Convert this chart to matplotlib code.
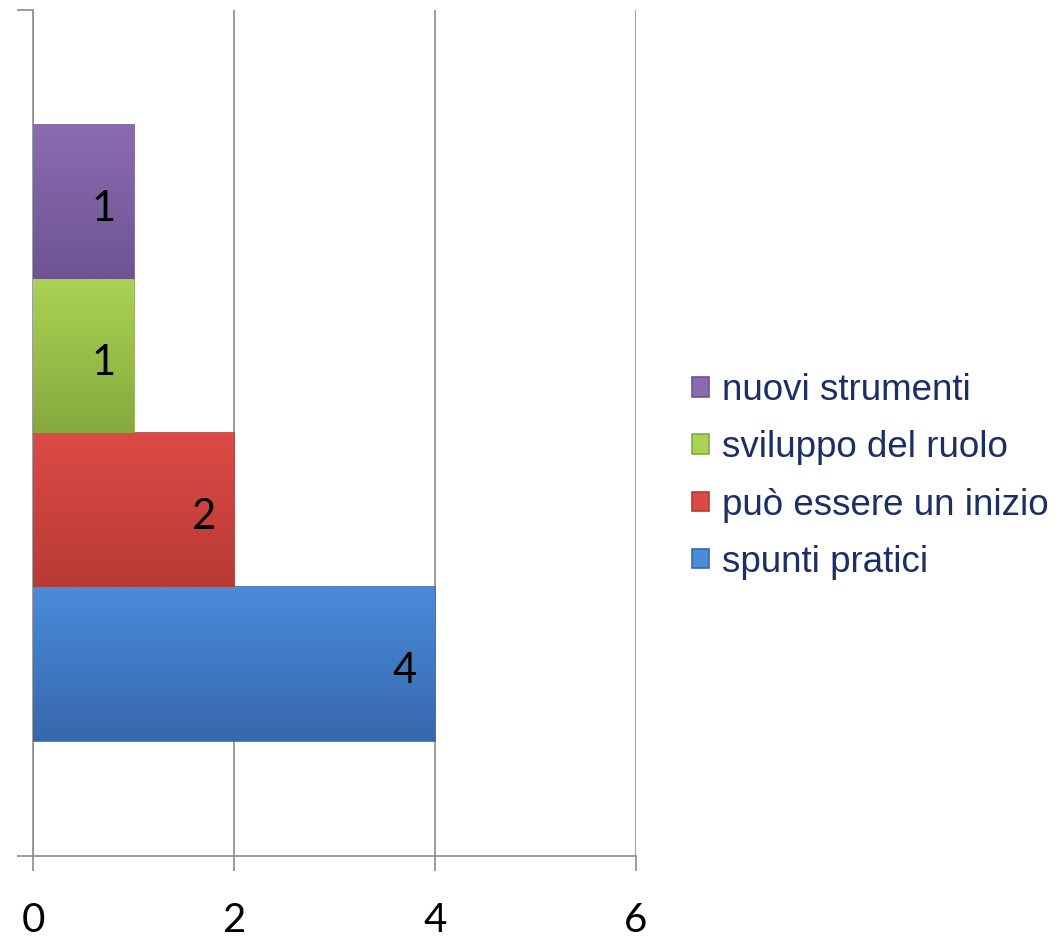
import numpy as np
import matplotlib
matplotlib.use('Agg')
import matplotlib.pyplot as plt
from matplotlib.colors import LinearSegmentedColormap

# data
labels = ['spunti pratici', 'può essere un inizio', 'sviluppo del ruolo', 'nuovi strumenti']
values = [4, 2, 1, 1]
top_colors = ['#4A8BDA', '#DD4A45', '#AAD253', '#8A6BB0']
bottom_colors = ['#3768AC', '#B83A36', '#86A93E', '#6E5492']
xticks = [0, 2, 4, 6]

fig = plt.figure(figsize=(10.59, 9.38), dpi=100)
ax = fig.add_axes([0.0312, 0.0874, 0.5694, 0.9019])

n = len(values)
h = 0.182
offsets = (np.arange(n) - (n - 1) / 2) * h

bars = []
for i in range(n):
    b = ax.barh(offsets[i], values[i], height=h, color=top_colors[i],
                edgecolor=bottom_colors[i], linewidth=1.2, label=labels[i], zorder=3)
    bars.append(b)
    # vertical gradient clipped to the bar
    patch = b.patches[0]
    x0, y0 = patch.get_x(), patch.get_y()
    w, hh = patch.get_width(), patch.get_height()
    cmap = LinearSegmentedColormap.from_list('g', [bottom_colors[i], top_colors[i]])
    grad = np.linspace(0, 1, 100).reshape(-1, 1)
    im = ax.imshow(grad, cmap=cmap, aspect='auto', origin='lower',
                   extent=[x0, x0 + w, y0, y0 + hh], zorder=3.5)
    im.set_clip_path(patch)
    ax.annotate(str(values[i]), (values[i], offsets[i]), xytext=(-13, -5),
                textcoords='offset points', ha='right', va='center',
                fontsize=30, family='Lato', color='black', zorder=5)

ax.set_xlim(0, 6)
ax.set_ylim(-0.5, 0.5)
ax.set_xticks(xticks)
ax.set_xticklabels([str(t) for t in xticks], fontsize=29, family='Lato')
ax.set_yticks([-0.5, 0.5])
ax.set_yticklabels([])
ax.tick_params(axis='x', direction='out', length=11, width=1.2, color='#8C8C8C', pad=22)
ax.tick_params(axis='y', direction='out', length=11.5, width=1.2, color='#8C8C8C')
ax.grid(axis='x', color='#8C8C8C', linewidth=1.2, zorder=0)
ax.set_axisbelow(True)
for s in ['top', 'right']:
    ax.spines[s].set_visible(False)
for s in ['left', 'bottom']:
    ax.spines[s].set_color('#8C8C8C')
    ax.spines[s].set_linewidth(1.2)

handles = [b.patches[0] for b in bars][::-1]
leg = fig.legend(handles, labels[::-1], loc='center left', bbox_to_anchor=(0.6534, 0.4920),
                 frameon=False, prop={'family': 'Liberation Sans', 'size': 26.5},
                 handlelength=0.45, handleheight=0.45, handletextpad=0.38,
                 labelspacing=0.6, borderpad=0, borderaxespad=0)
for t in leg.get_texts():
    t.set_color('#1B2F66')

fig.savefig('out.png', dpi=100)
